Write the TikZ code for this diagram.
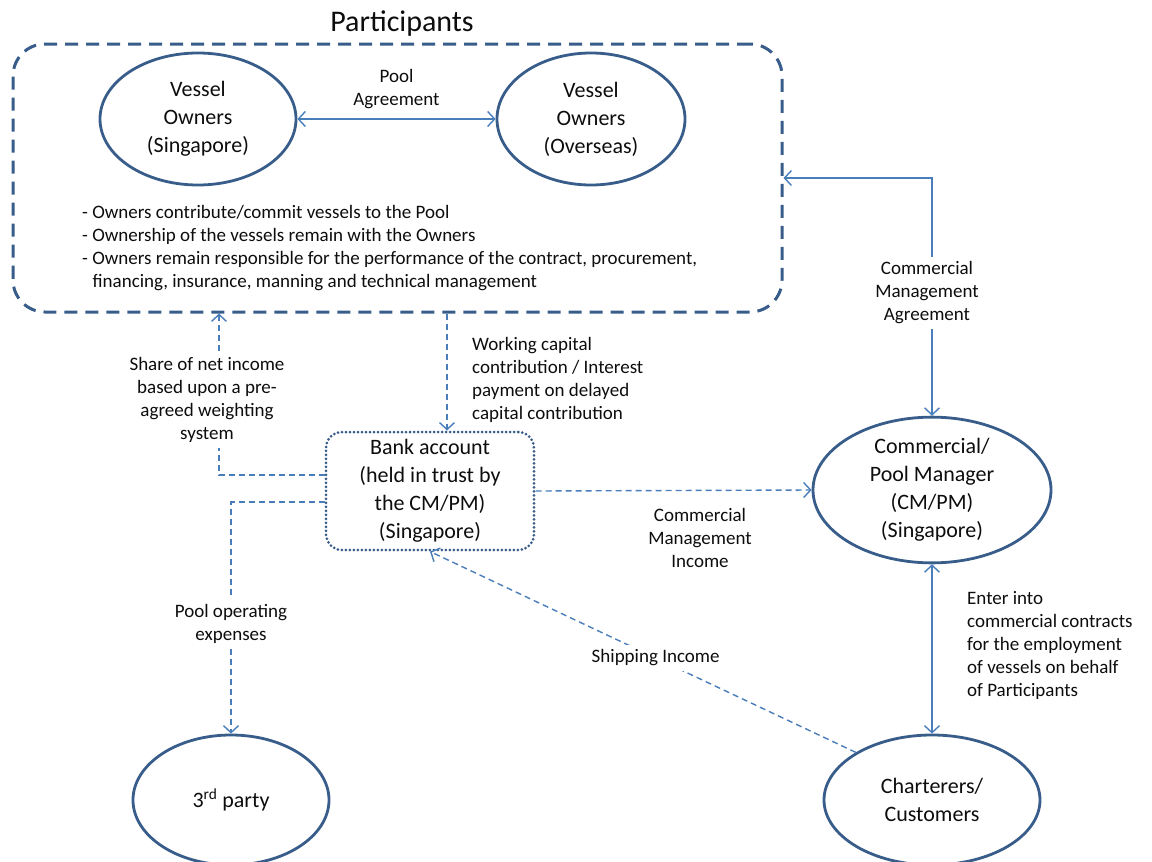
\documentclass[tikz,border=0pt]{standalone}
\usepackage{fontspec}
\setmainfont{Carlito}
\usetikzlibrary{shapes.geometric,arrows.meta}
\definecolor{boxblue}{HTML}{385D8A}
\definecolor{linkblue}{HTML}{4A7EBB}
\definecolor{inkgray}{HTML}{0D0D0D}

\begin{document}
\begin{tikzpicture}[x=1pt, y=-1pt,
    >={Straight Barb[length=7pt,width=15pt]},
    every node/.style = {text=inkgray, align=center,
      font=\fontsize{19}{23}\selectfont},
    party/.style = {ellipse, draw=boxblue, line width=2.8pt,
      inner sep=0pt, font=\fontsize{22}{28}\selectfont},
    link/.style = {draw=linkblue, line width=1.4pt},
    flow/.style = {link, dash pattern=on 6pt off 4pt},
    note/.style = {fill=white, inner sep=5pt},
    side/.style = {anchor=north west, align=left, inner sep=0pt}]

  \useasboundingbox (0,0) rectangle (1152,862);

  \node[font=\fontsize{30}{36}\selectfont] (title) at (402,24) {Participants};
  \node[draw=boxblue, line width=3pt, dash pattern=on 13pt off 8pt,
    rounded corners=32pt, minimum width=769pt, minimum height=268pt] (pool) at (397.5,178) {};

  \node[party, minimum width=196pt, minimum height=132pt] (vso) at (198,119) {Vessel\\Owners\\(Singapore)};
  \node[party, minimum width=188pt, minimum height=132pt] (vow) at (591,119) {Vessel\\Owners\\(Overseas)};
  \node[side] (rules) at (82,205) {- Owners contribute/commit vessels to the Pool\\
    - Ownership of the vessels remain with the Owners\\
    - Owners remain responsible for the performance of the contract, procurement,\\
    \hspace*{0.55em}financing, insurance, manning and technical management};

  \node[draw=boxblue, line width=3pt, dash pattern=on 0pt off 4pt, line cap=round,
    rounded corners=16pt, minimum width=208pt, minimum height=118pt,
    font=\fontsize{22}{28}\selectfont] (bank) at (430,491) {Bank account\\(held in trust by\\the CM/PM)\\(Singapore)};
  \node[party, minimum width=238pt, minimum height=140pt] (cmpm) at (932,490) {Commercial/\\Pool Manager\\(CM/PM)\\(Singapore)};
  \node[party, minimum width=196pt, minimum height=130pt] (third) at (231,800) {3\textsuperscript{rd} party};
  \node[party, minimum width=216pt, minimum height=130pt] (charter) at (932,800) {Charterers/\\Customers};

  \coordinate (shareturn) at (219,475);
  \coordinate (capin) at (447,0);

  \draw[link,<->] (vso) -- (vow) node[midway, above=6pt] (poolagr) {Pool\\Agreement};
  \draw[flow,->] (bank.west |- shareturn) -- (shareturn) -- (pool.south -| shareturn);
  \draw[flow,->] (pool.south -| capin) -- (bank.north -| capin);
  \draw[flow,->] (bank.east) -- (cmpm.west);
  \draw[flow,->] ([yshift=-11pt]bank.west) -| (third.north);
  \draw[flow,->] (charter.148) -- (bank.south) node[note, pos=0.47] (shipping) {Shipping Income};
  \draw[link,<->] (pool.east) -| (cmpm.north);
  \draw[link,<->] (cmpm.south) -- (charter.north);

  \node[note] (share) at (207,400) {Share of net income\\based upon a pre-\\agreed weighting\\system};
  \node[side] (capital) at (472,337) {Working capital\\contribution / Interest\\payment on delayed\\capital contribution};
  \node (cmincome) at (700,538) {Commercial\\Management\\Income};
  \node[note] (poolexp) at (231,624) {Pool operating\\expenses};
  \node[note] (cmagree) at (927,293) {Commercial\\Management\\Agreement};
  \node[side] (employ) at (967,591) {Enter into\\commercial contracts\\for the employment\\of vessels on behalf\\of Participants};
\end{tikzpicture}
\end{document}
